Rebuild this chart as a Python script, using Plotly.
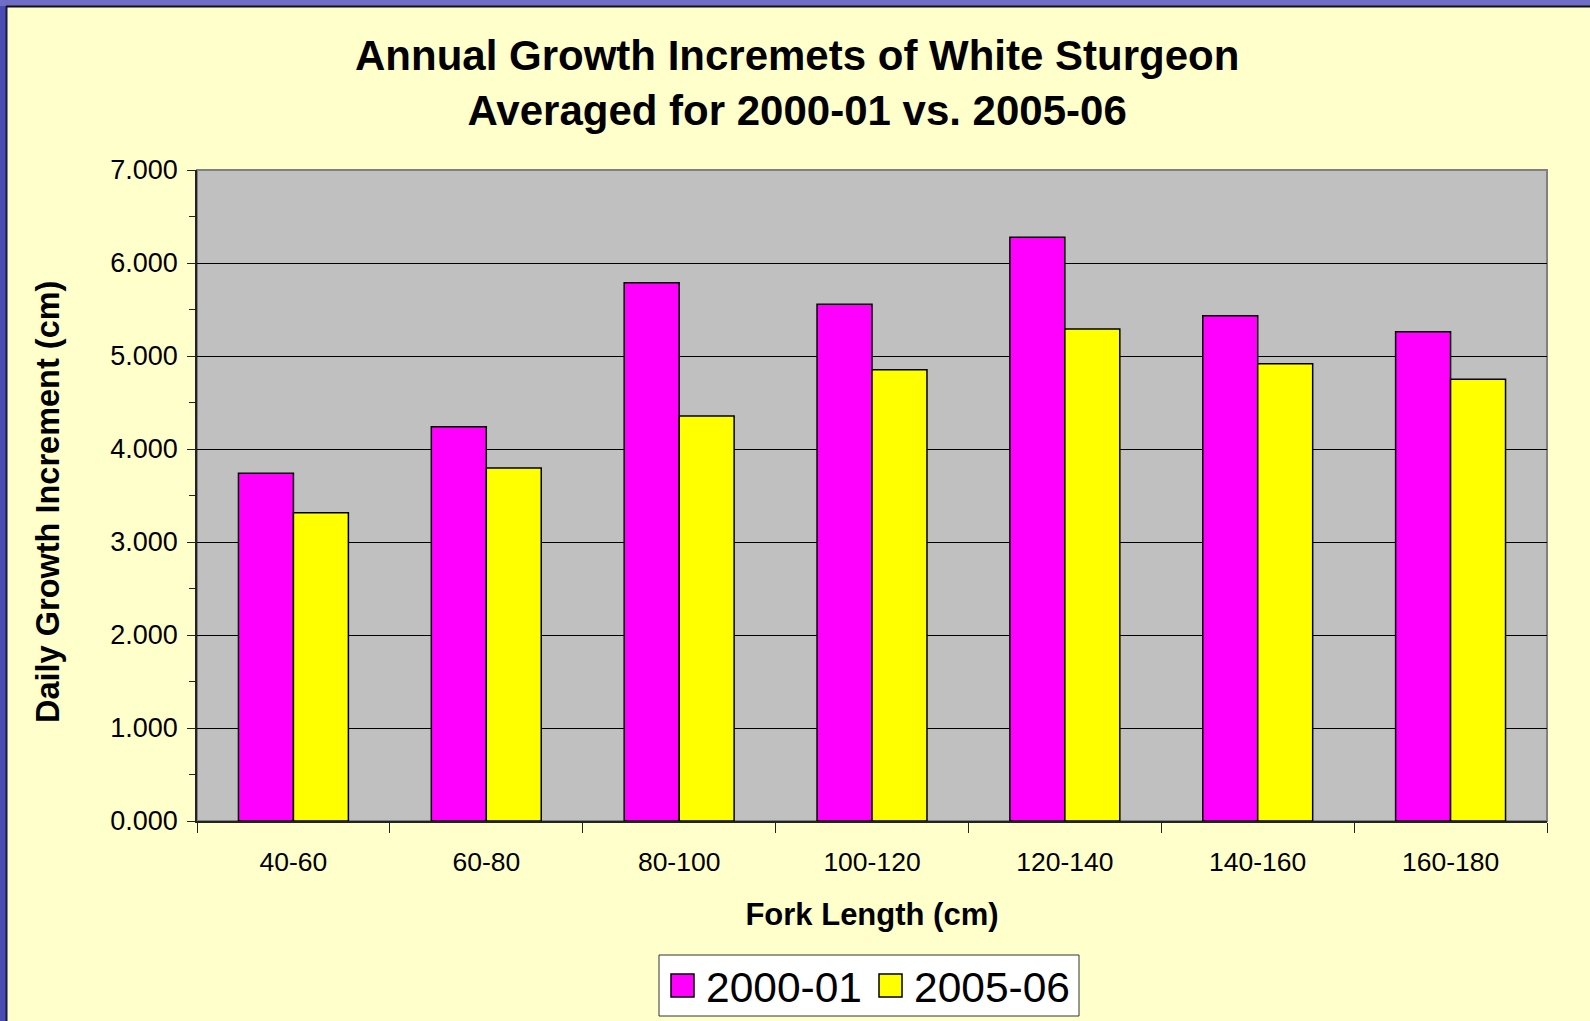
import plotly.graph_objects as go

# ---- data ----
fork_length = ['40-60', '60-80', '80-100', '100-120', '120-140', '140-160', '160-180']
series_names = ['2000-01', '2005-06']
growth_2000_01 = [3.739, 4.240, 5.788, 5.556, 6.276, 5.433, 5.261]
growth_2005_06 = [3.315, 3.796, 4.355, 4.853, 5.290, 4.917, 4.749]
bar_colors = ['#FF00FF', '#FFFF00']

W, H = 1590, 1021
L, R, T, B = 197, 1547, 170, 821   # plot area in page pixels
FONT = 'Liberation Sans, Arial, sans-serif'


# paper coords are relative to the plot area
def px_x(p):
    return (p - L) / (R - L)


def px_y(p):
    return (B - p) / (B - T)


fig = go.Figure()
for name, vals, col in zip(series_names, [growth_2000_01, growth_2005_06], bar_colors):
    fig.add_trace(go.Bar(
        x=fork_length, y=vals, name=name,
        marker=dict(color=col, line=dict(color='black', width=1.5)),
        showlegend=False
    ))

fig.update_layout(
    width=W, height=H,
    margin=dict(l=L, r=W - R, t=T, b=H - B),
    paper_bgcolor='#FFFFCC',
    plot_bgcolor='#C0C0C0',
    barmode='group', bargap=0.43, bargroupgap=0,
    font=dict(family=FONT, color='black'),
    xaxis=dict(
        title=dict(text='<b>Fork Length (cm)</b>', font=dict(size=31), standoff=28),
        tickfont=dict(size=26.5),
        ticklabelstandoff=16,
        showline=True, linecolor='#222222', linewidth=1.5,
        ticks='outside', ticklen=10, tickcolor='#222222', tickson='boundaries',
        showgrid=False
    ),
    yaxis=dict(
        tickfont=dict(size=27),
        ticklabelstandoff=4,
        range=[0, 7], dtick=1, tickformat='.3f',
        showline=True, linecolor='#222222', linewidth=1.5,
        ticks='outside', ticklen=8, tickcolor='#222222',
        minor=dict(dtick=0.5, ticks='outside', ticklen=6, tickcolor='#222222', showgrid=False),
        showgrid=True, gridcolor='black', gridwidth=1,
        zeroline=False
    ),
)

shapes = [
    # grey frame on the plot area
    dict(type='rect', xref='paper', yref='paper', x0=0, x1=1, y0=0, y1=1,
         line=dict(color='#808080', width=2), layer='below'),
    # blue slide edge, left and top
    dict(type='rect', xref='paper', yref='paper', x0=px_x(-5), x1=px_x(6), y0=px_y(1030), y1=px_y(-5),
         line=dict(width=0), fillcolor='#4B4BB4'),
    dict(type='rect', xref='paper', yref='paper', x0=px_x(-5), x1=px_x(1600), y0=px_y(6), y1=px_y(-5),
         line=dict(width=0), fillcolor='#6E6EC8'),
    dict(type='line', xref='paper', yref='paper', x0=px_x(6.5), x1=px_x(6.5), y0=px_y(1030), y1=px_y(6),
         line=dict(color='#1A1A40', width=2)),
    dict(type='line', xref='paper', yref='paper', x0=px_x(6), x1=px_x(1600), y0=px_y(6.5), y1=px_y(6.5),
         line=dict(color='#111111', width=2)),
    # legend box
    dict(type='rect', xref='paper', yref='paper', x0=px_x(659), x1=px_x(1079),
         y0=px_y(1016), y1=px_y(955), fillcolor='white', line=dict(color='#333333', width=1)),
]
annotations = [
    dict(text='<b>Annual Growth Incremets of White Sturgeon<br>Averaged for 2000-01 vs. 2005-06</b>',
         xref='paper', yref='paper', x=px_x(W / 2 + 2), y=px_y(83),
         xanchor='center', yanchor='middle', showarrow=False,
         font=dict(size=42, family=FONT, color='black')),
    # y axis title placed to match the reference
    dict(text='<b>Daily Growth Increment (cm)</b>', textangle=-90,
         xref='paper', yref='paper', x=px_x(48), y=px_y(502),
         xanchor='center', yanchor='middle', showarrow=False,
         font=dict(size=32.5, family=FONT, color='black')),
]
legend_items = [(671, series_names[0], bar_colors[0]), (879, series_names[1], bar_colors[1])]
for lx, name, col in legend_items:
    shapes.append(dict(type='rect', xref='paper', yref='paper', x0=px_x(lx), x1=px_x(lx + 23),
                       y0=px_y(997), y1=px_y(974), fillcolor=col, line=dict(color='black', width=1.5)))
    annotations.append(dict(text=name, xref='paper', yref='paper', x=px_x(lx + 33), y=px_y(987),
                            xanchor='left', yanchor='middle', showarrow=False,
                            font=dict(size=42.5, family=FONT, color='black')))

fig.update_layout(shapes=shapes, annotations=annotations)

fig.write_html('out.html', config={'displayModeBar': False},
               post_script="document.body.style.margin='0';")
